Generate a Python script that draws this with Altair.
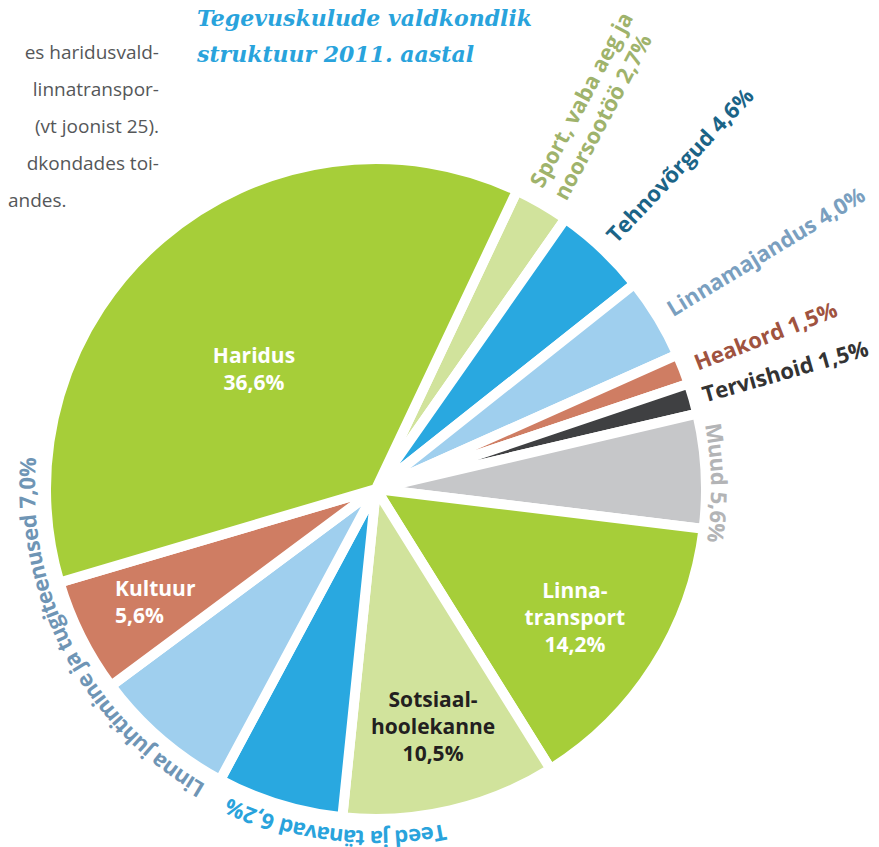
import math
import altair as alt
import pandas as pd

# ---------------- data ----------------
categories = ["Sport, vaba aeg ja noorsootöö", "Tehnovõrgud", "Linnamajandus", "Heakord",
              "Tervishoid", "Muud", "Linnatransport", "Sotsiaalhoolekanne",
              "Teed ja tänavad", "Linna juhtimine ja tugiteenused", "Kultuur", "Haridus"]
shares = [2.7, 4.6, 4.0, 1.5, 1.5, 5.6, 14.2, 10.5, 6.2, 7.0, 5.6, 36.6]
label_names = ["Sport, vaba aeg ja\nnoorsootöö", "Tehnovõrgud", "Linnamajandus", "Heakord",
               "Tervishoid", "Muud", "Linna-\ntransport", "Sotsiaal-\nhoolekanne",
               "Teed ja tänavad", "Linna juhtimine ja tugiteenused", "Kultuur", "Haridus"]
label_kinds = ["radial", "radial", "radial", "radial", "radial", "curved",
               "inside", "inside", "curved", "curved", "inside-left", "inside"]
slice_colors = ["#d1e39c", "#29a8e0", "#9fcfee", "#cf7d63", "#3f4042", "#c6c7c9",
                "#a6ce39", "#d1e39c", "#29a8e0", "#9fcfee", "#cf7d63", "#a6ce39"]
label_colors = ["#9fb36c", "#1b6487", "#7a9fbf", "#a0533f", "#333333", "#b3b4b6",
                "#ffffff", "#231f20", "#29a3dc", "#6f95b5", "#ffffff", "#ffffff"]
title_lines = ["Tegevuskulude valdkondlik", "struktuur 2011. aastal"]
body_lines = ["es haridusvald-", "linnatranspor-", "(vt joonist 25).", "dkondades toi-"]
body_last = "andes."

# ---------------- layout / style ----------------
CX, CY = 368, 481          # pie centre inside the view
R_OUT = 330
START_DEG = 25.3
# per-label (angle offset from slice middle in degrees, radius in px of first line)
label_place = {
    0: (-2.25, 343), 1: (0.0, 343), 2: (0.0, 343), 3: (0.0, 343), 4: (0.0, 340),
    5: (2.1, 335), 8: (-10.1, 342), 9: (21.8, 341),
    6: (-5.1, 224), 7: (-2.0, 220), 10: (5.3, 280), 11: (-2.1, 180),
}
FS_OUT = 22
FS_IN = 21
char_w = {' ': 0.26, 'a': 0.56, 'b': 0.62, 'c': 0.49, 'd': 0.62, 'e': 0.57, 'g': 0.55,
          'h': 0.63, 'i': 0.27, 'j': 0.27, 'k': 0.56, 'l': 0.27, 'm': 0.95, 'n': 0.63,
          'o': 0.61, 'p': 0.62, 'r': 0.42, 's': 0.49, 't': 0.38, 'u': 0.63, 'v': 0.53,
          'ä': 0.56, 'õ': 0.61, 'ö': 0.61, 'L': 0.51, 'M': 0.90, 'T': 0.55, ',': 0.27,
          '%': 0.85}


def pct(v):
    return f"{v:.1f}".replace(".", ",") + "%"


rows = []
cum = 0.0
for i, (c, v) in enumerate(zip(categories, shares)):
    mid = START_DEG + (cum + v / 2) * 3.6
    cum += v
    sep = "\n" if label_kinds[i].startswith("inside") else " "
    off, rad = label_place[i]
    ang = mid + off
    rows.append(dict(cat=c, share=v, order=i, fill=slice_colors[i], lcol=label_colors[i],
                     label=label_names[i] + sep + pct(v), kind=label_kinds[i],
                     t=math.radians(ang), r=rad, rot=(ang - 90) % 360))
df = pd.DataFrame(rows)

# per-character rows for labels that follow the circle
chars = []
for _, row in df[df.kind == "curved"].iterrows():
    txt = row.label
    widths = [char_w.get(ch, 0.57) * FS_OUT for ch in txt]
    total = sum(widths)
    centre = math.degrees(row.t)
    pos = -total / 2
    for ch, w in zip(txt, widths):
        a = centre + math.degrees((pos + w / 2) / row.r)
        pos += w
        chars.append(dict(ch=ch, t=math.radians(a), r=row.r, rot=a % 360, lcol=row.lcol))
cdf = pd.DataFrame(chars)

start = math.radians(START_DEG)
base = alt.Chart(df)

pie = base.mark_arc(outerRadius=R_OUT, stroke="white", strokeWidth=10, strokeJoin="round").encode(
    theta=alt.Theta("share:Q", stack=True, scale=alt.Scale(range=[start, start + 2 * math.pi])),
    order=alt.Order("order:Q", sort="ascending"),
    color=alt.Color("fill:N", scale=None),
    x=alt.value(CX), y=alt.value(CY),
)

polar = dict(
    theta=alt.Theta("t:Q", scale=None),
    radius=alt.Radius("r:Q", scale=None),
    color=alt.Color("lcol:N", scale=None),
    x=alt.value(CX), y=alt.value(CY),
)

inside = base.transform_filter(alt.datum.kind == "inside").mark_text(
    font="Open Sans", fontSize=FS_IN, fontWeight="bold", lineBreak="\n", lineHeight=27,
    align="center", baseline="middle").encode(text="label:N", **polar)
inside_left = base.transform_filter(alt.datum.kind == "inside-left").mark_text(
    font="Open Sans", fontSize=FS_IN, fontWeight="bold", lineBreak="\n", lineHeight=27,
    align="left", baseline="middle").encode(text="label:N", **polar)
radial = base.transform_filter(alt.datum.kind == "radial").mark_text(
    font="Open Sans", fontSize=FS_OUT, fontWeight="bold", lineBreak="\n", lineHeight=27,
    align="left", baseline="middle").encode(
    text="label:N", angle=alt.Angle("rot:Q", scale=None), **polar)
curved = alt.Chart(cdf).mark_text(
    font="Open Sans", fontSize=FS_OUT, fontWeight="bold", align="center",
    baseline="alphabetic").encode(
    text="ch:N", angle=alt.Angle("rot:Q", scale=None), **polar)

tdf = pd.DataFrame(dict(txt=title_lines, yy=[18 + 36 * i for i in range(len(title_lines))]))
title = alt.Chart(tdf).mark_text(
    font="DejaVu Serif", fontSize=22, fontStyle="italic", fontWeight="bold",
    color="#29a3dc", align="left", baseline="alphabetic").encode(
    text="txt:N", x=alt.value(189), y=alt.Y("yy:Q", scale=None))

bdf = pd.DataFrame(dict(txt=body_lines, yy=[51 + 37 * i for i in range(len(body_lines))]))
body = alt.Chart(bdf).mark_text(
    font="Open Sans", fontSize=19, color="#555759", align="right",
    baseline="alphabetic").encode(
    text="txt:N", x=alt.value(151), y=alt.Y("yy:Q", scale=None))
body_end = alt.Chart(pd.DataFrame(dict(txt=[body_last]))).mark_text(
    font="Open Sans", fontSize=19, color="#555759", align="left",
    baseline="alphabetic").encode(
    text="txt:N", x=alt.value(0), y=alt.value(51 + 37 * len(body_lines)))

chart = alt.layer(pie, inside, inside_left, radial, curved, title, body, body_end).properties(
    width=862, height=839, padding=0, autosize="none"
).configure_view(stroke=None)

chart.save("out.html", embed_options={"renderer": "svg", "actions": False})
